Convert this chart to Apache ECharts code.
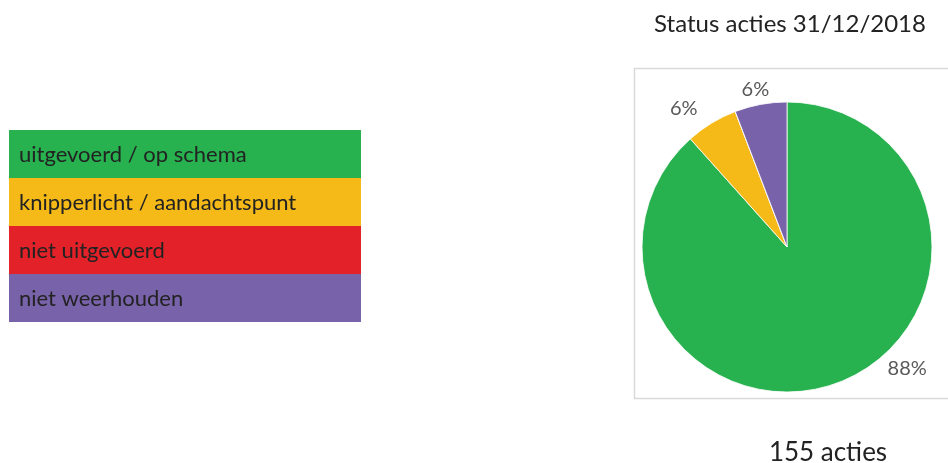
<!DOCTYPE html>
<html>
<head>
<meta charset="utf-8">
<script src="https://cdn.jsdelivr.net/npm/echarts@6/dist/echarts.min.js"></script>
<style>
  html, body { margin: 0; padding: 0; background: #fff; }
  #chart { width: 948px; height: 463px; }
</style>
</head>
<body>
<div id="chart"></div>
<script>
// statuscategorieën en kleuren
const statusNames = ['uitgevoerd / op schema', 'knipperlicht / aandachtspunt', 'niet uitgevoerd', 'niet weerhouden']
const statusColors = ['#27b14f', '#f5ba18', '#e32128', '#7862aa']
// aantal acties per status (155 in totaal)
const statusCounts = [137, 9, 0, 9]
const chartTitle = 'Status acties 31/12/2018'
const totalLabel = '155 acties'

const font = 'Lato, "Open Sans", sans-serif'
const chartDom = document.getElementById('chart')
const myChart = echarts.init(chartDom)

// legenda als gekleurde balken
const rowH = 48
const legendItems = []
statusNames.forEach(function (name, i) {
    legendItems.push({
        type: 'rect',
        shape: { x: 9, y: 130 + i * rowH, width: 352, height: rowH },
        style: { fill: statusColors[i] }
    })
    legendItems.push({
        type: 'text',
        x: 19, y: 130 + i * rowH + rowH / 2 + 1,
        style: { text: name, fill: '#222', font: '22px ' + font, verticalAlign: 'middle' }
    })
})

// verschuiving van de percentages (zoals Excel ze plaatst)
const labelShift = [[41, -21], [-2, -12], [0, 0], [15, -7]]

const option = {
    title: [
        { text: chartTitle, left: 785, top: 7, textAlign: 'center',
          textStyle: { fontFamily: font, fontWeight: 'normal', fontSize: 24, color: '#222' } },
        { text: totalLabel, left: 823, top: 435, textAlign: 'center',
          textStyle: { fontFamily: font, fontWeight: 'normal', fontSize: 26, color: '#222' } }
    ],
    graphic: [
        { type: 'rect', shape: { x: 634.5, y: 68.5, width: 330, height: 330 },
          style: { fill: 'none', stroke: '#d9d9d9', lineWidth: 1.5 } }
    ].concat(legendItems),
    series: [
        {
            type: 'pie',
            center: [787, 247],
            radius: 145,
            startAngle: 90,
            clockwise: true,
            silent: true,
            itemStyle: { borderColor: '#fff', borderWidth: 0.8 },
            label: {
                show: true,
                position: 'outside',
                fontFamily: font,
                fontSize: 20,
                color: '#595959',
                formatter: function (p) { return p.value ? Math.round(p.percent) + '%' : '' }
            },
            labelLine: { show: false, length: 8, length2: 0 },
            labelLayout: function (p) {
                const s = labelShift[p.dataIndex]
                return { dx: s[0], dy: s[1] }
            },
            data: statusNames.map(function (name, i) {
                return { name: name, value: statusCounts[i], itemStyle: { color: statusColors[i] } }
            })
        }
    ]
}

option && myChart.setOption(option)
</script>
</body>
</html>
